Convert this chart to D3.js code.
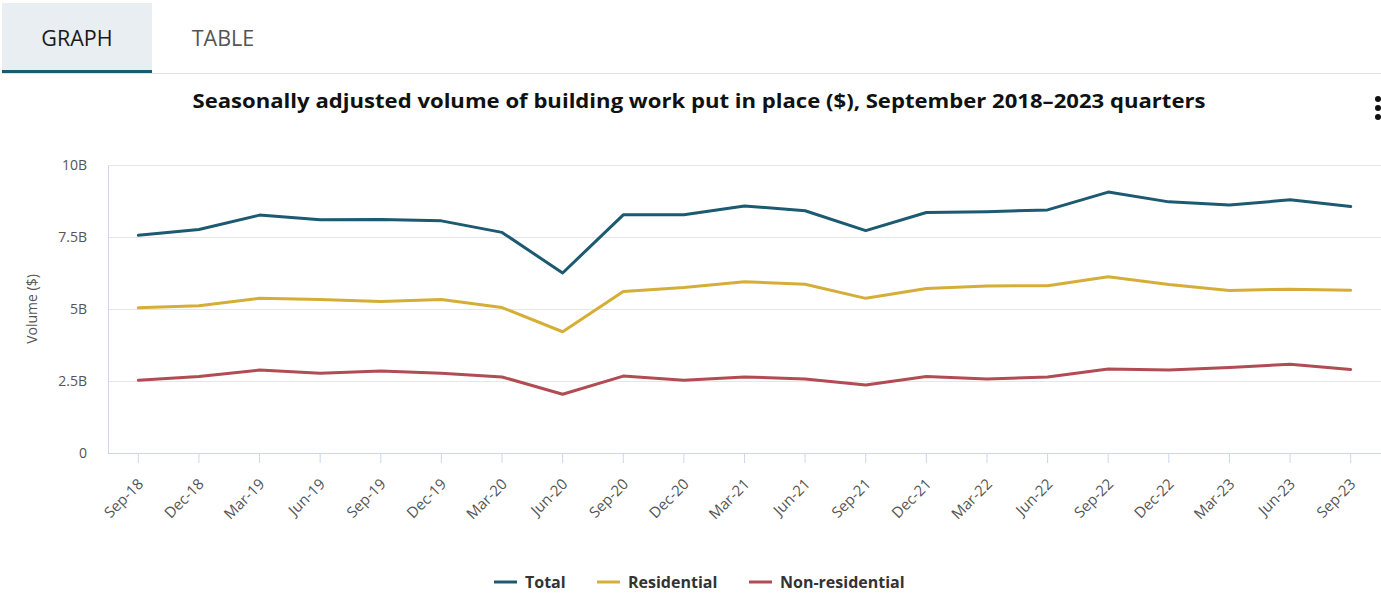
<!DOCTYPE html>
<html><head><meta charset="utf-8">
<script src="https://cdn.jsdelivr.net/npm/d3@7/dist/d3.min.js"></script>
<style>
html,body{margin:0;padding:0;background:#fff;}
svg{display:block;font-family:"Open Sans",Lato,sans-serif;}
</style></head><body>
<svg id="c" width="1381" height="603"></svg>
<script>
const categories = ["Sep-18","Dec-18","Mar-19","Jun-19","Sep-19","Dec-19","Mar-20","Jun-20","Sep-20","Dec-20","Mar-21","Jun-21","Sep-21","Dec-21","Mar-22","Jun-22","Sep-22","Dec-22","Mar-23","Jun-23","Sep-23"];
const total = [7.56,7.76,8.26,8.10,8.11,8.06,7.66,6.25,8.27,8.27,8.58,8.41,7.72,8.35,8.38,8.44,9.06,8.72,8.61,8.79,8.56];
const residential = [5.04,5.11,5.37,5.33,5.26,5.33,5.05,4.21,5.61,5.75,5.95,5.86,5.37,5.71,5.80,5.81,6.12,5.85,5.64,5.69,5.65];
const nonResidential = [2.53,2.66,2.88,2.77,2.85,2.77,2.64,2.04,2.67,2.53,2.64,2.57,2.36,2.66,2.57,2.64,2.92,2.88,2.97,3.08,2.90];
const yTicks = [0,2.5,5,7.5,10];
const yTickLabels = ["0","2.5B","5B","7.5B","10B"];
const seriesNames = ["Total","Residential","Non-residential"];
const colors = ["#1b5a70","#d5ae38","#b14c53"];
const series = [total, residential, nonResidential];

const FONT = "'Open Sans',Lato,sans-serif";
const svg = d3.select("#c");

// Tabs
svg.append("rect").attr("x",2).attr("y",3).attr("width",150).attr("height",69).attr("fill","#e8eef2");
svg.append("line").attr("x1",2).attr("x2",1381).attr("y1",73.5).attr("y2",73.5).attr("stroke","#e0e0e0").attr("stroke-width",1);
svg.append("rect").attr("x",2).attr("y",70).attr("width",150).attr("height",3).attr("fill","#1b5a70");
svg.append("text").attr("x",77).attr("y",46).attr("text-anchor","middle").attr("font-size",21.5).attr("fill","#1a1a1a").text("GRAPH");
svg.append("text").attr("x",223).attr("y",46).attr("text-anchor","middle").attr("font-size",21.5).attr("fill","#555").text("TABLE");

// Title
svg.append("text").attr("x",699).attr("y",108).attr("text-anchor","middle").attr("font-size",19).attr("font-weight","bold").attr("fill","#111")
  .attr("textLength",1013).attr("lengthAdjust","spacingAndGlyphs")
  .text("Seasonally adjusted volume of building work put in place ($), September 2018–2023 quarters");

// menu dots
[99,108,117].forEach(cy=>svg.append("circle").attr("cx",1378).attr("cy",cy).attr("r",3).attr("fill","#111"));

const pLeft=108, pRight=1381, pTop=165, pBottom=453;
const x = d3.scaleBand().domain(categories).range([pLeft,pRight]);
const y = d3.scaleLinear().domain([0,10]).range([pBottom,pTop]);

// grid
svg.append("g").selectAll("line").data(yTicks.filter(d=>d>0)).join("line")
  .attr("x1",pLeft).attr("x2",pRight).attr("y1",d=>Math.round(y(d))+0.5).attr("y2",d=>Math.round(y(d))+0.5)
  .attr("stroke","#e6e6e6").attr("stroke-width",1);

// y axis
const yAxis = d3.axisLeft(y).tickValues(yTicks).tickFormat((d,i)=>yTickLabels[i]).tickSize(0).tickPadding(21);
const gy = svg.append("g").attr("transform",`translate(${pLeft},0)`).call(yAxis);
gy.select(".domain").attr("stroke","#ccd6eb");
gy.selectAll("text").attr("font-size",14).attr("fill","#555").attr("font-family",FONT);

// x axis
const xAxis = d3.axisBottom(x).tickSize(10).tickSizeOuter(0).tickPadding(6);
const gx = svg.append("g").attr("transform",`translate(0,${pBottom})`).call(xAxis);
gx.select(".domain").attr("stroke","#ccd6eb").attr("d",`M${pLeft},0.5H${pRight}`);
gx.selectAll(".tick line").attr("stroke","#ccd6eb");
gx.selectAll("text").attr("font-size",15).attr("fill","#555").attr("font-family",FONT)
  .attr("text-anchor","end").attr("dy",null).attr("y",0).attr("x",0)
  .attr("transform","translate(6,32) rotate(-45)");

// y title
svg.append("text").attr("transform",`translate(37,309) rotate(-90)`).attr("text-anchor","middle")
  .attr("font-size",14).attr("fill","#555").text("Volume ($)");

// lines
const line = d3.line().x((d,i)=>x(categories[i])+x.bandwidth()/2).y(d=>y(d));
series.forEach((s,k)=>{
  svg.append("path").datum(s).attr("d",line).attr("fill","none").attr("stroke",colors[k]).attr("stroke-width",3)
    .attr("stroke-linejoin","round").attr("stroke-linecap","round");
});

// legend
const legX=[494,597,749];
seriesNames.forEach((n,k)=>{
  svg.append("line").attr("x1",legX[k]).attr("x2",legX[k]+23).attr("y1",582).attr("y2",582).attr("stroke",colors[k]).attr("stroke-width",3);
  svg.append("text").attr("x",legX[k]+31).attr("y",588).attr("font-size",16).attr("font-weight","bold").attr("fill","#333").text(n);
});
</script>
</body></html>
